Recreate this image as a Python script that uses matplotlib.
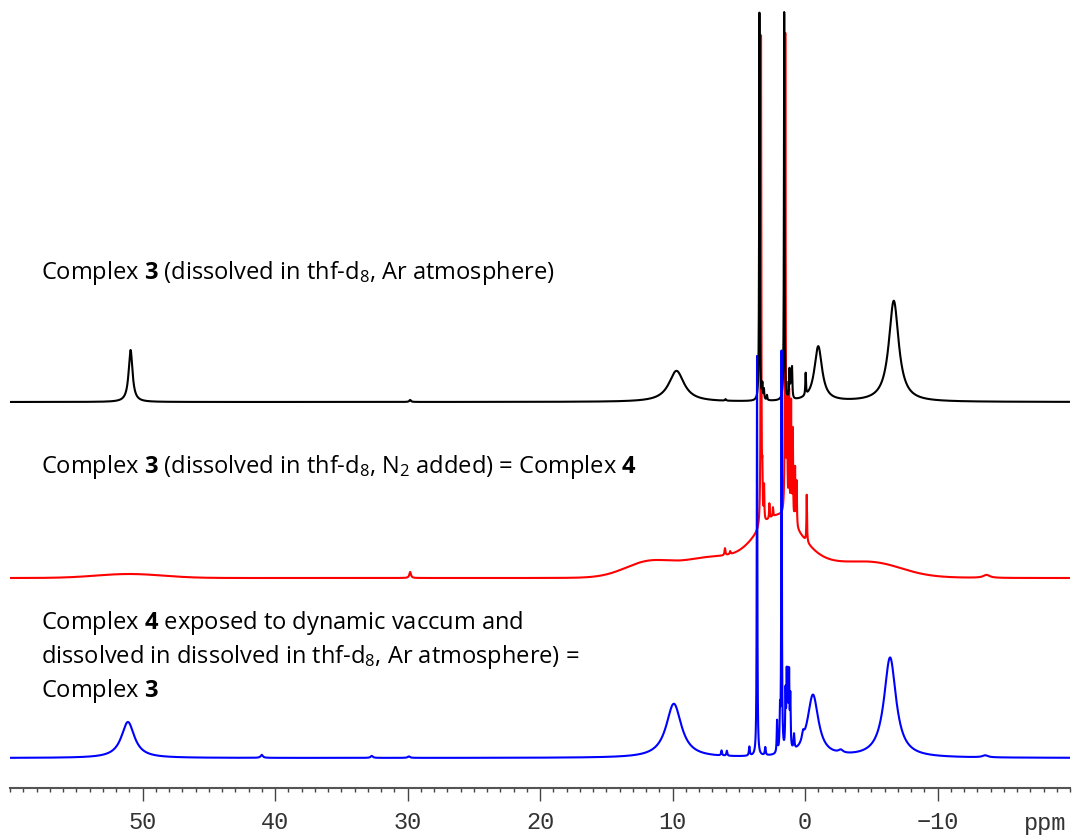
import numpy as np
import matplotlib.pyplot as plt
from matplotlib.ticker import MultipleLocator

plt.rcParams['mathtext.fontset'] = 'custom'
plt.rcParams['mathtext.rm'] = 'Open Sans'
plt.rcParams['mathtext.bf'] = 'Open Sans:bold'
plt.rcParams['mathtext.it'] = 'Open Sans:italic'

# peak lists: position (ppm), height (px above baseline), fwhm (ppm)
black_ppm = [50.9, 29.8, 9.7, 6.0, 3.44, 3.22, 3.1, 2.87, 1.57, 1.17, 1.07, 0.98, -0.05, -1.0, -6.7]
black_height = [52, 2, 31, 1.5, 388, 14, 10, 5, 388, 28, 24, 30, 22, 55, 101]
black_fwhm = [0.35, 0.15, 1.4, 0.1, 0.05, 0.06, 0.06, 0.06, 0.05, 0.06, 0.06, 0.06, 0.06, 0.7, 0.9]

red_ppm = [29.8, 6.04, 5.65, 3.32, 3.22, 3.09, 2.69, 2.42, 1.49, 1.35, 1.2, 1.05, 0.92, 0.75, 0.63, -0.13, -13.7]
red_height = [6, 7, 3, 490, 40, 34, 15, 9, 480, 118, 122, 115, 90, 56, 45, 47, 3]
red_fwhm = [0.15, 0.08, 0.08, 0.05, 0.05, 0.05, 0.05, 0.05, 0.05, 0.05, 0.05, 0.05, 0.05, 0.05, 0.05, 0.05, 0.6]
# broad paramagnetic envelope of the N2 sample (gaussian components)
red_broad_ppm = [51.0, 11.8, 7.5, 2.0, 2.0, -5.5]
red_broad_height = [4, 14, 9, 20, 42, 9]
red_broad_sigma = [2.5, 1.8, 1.8, 5.0, 1.6, 2.0]

blue_ppm = [51.1, 41.0, 32.7, 29.9, 9.9, 6.3, 5.9, 4.2, 3.62, 3.0, 2.11, 1.89, 1.77,
            1.47, 1.38, 1.29, 1.2, 1.11, 0.83, 0.15, -0.6, -2.7, -6.42, -13.6]
blue_height = [36, 3, 2, 1.5, 54, 5, 5, 9, 400, 8, 32, 36, 400,
               55, 70, 68, 70, 50, 15, 8, 62, 3, 100, 2]
blue_fwhm = [1.2, 0.2, 0.2, 0.2, 1.4, 0.08, 0.08, 0.08, 0.05, 0.08, 0.06, 0.06, 0.05,
             0.06, 0.06, 0.06, 0.06, 0.06, 0.08, 0.2, 1.0, 0.4, 1.1, 0.5]

ppm = np.linspace(60, -20, 32001)


def lorentz(x, pos, h, fwhm):
    y = np.zeros_like(x)
    for p, a, w in zip(pos, h, fwhm):
        g = w / 2
        y += a * g**2 / ((x - p)**2 + g**2)
    return y


def gauss(x, pos, h, sig):
    y = np.zeros_like(x)
    for p, a, s in zip(pos, h, sig):
        y += a * np.exp(-(x - p)**2 / (2 * s**2))
    return y


black = 386 + lorentz(ppm, black_ppm, black_height, black_fwhm)
red = 210 + gauss(ppm, red_broad_ppm, red_broad_height, red_broad_sigma) + lorentz(ppm, red_ppm, red_height, red_fwhm)
blue = 30 + lorentz(ppm, blue_ppm, blue_height, blue_fwhm)

fig = plt.figure(figsize=(10.73, 8.37), dpi=100)
ax = fig.add_axes([10 / 1073, (837 - 789) / 837, 1060 / 1073, 789 / 837])
ax.plot(ppm, red, color='#ff0000', lw=1.5, zorder=1)
ax.plot(ppm, black, color='black', lw=1.5, zorder=2)
ax.plot(ppm, blue, color='#0000ff', lw=1.5, zorder=3)

ax.set_xlim(60, -20)
ax.set_ylim(0, 789)
for s in ['left', 'right', 'top']:
    ax.spines[s].set_visible(False)
ax.spines['bottom'].set_color('#555555')
ax.spines['bottom'].set_linewidth(1.5)
ax.set_yticks([])
ax.set_xticks(np.arange(-10, 51, 10))
ax.xaxis.set_minor_locator(MultipleLocator(1))
ax.tick_params(axis='x', which='major', length=9.5, width=1, color='#444444',
               labelsize=17, labelcolor='#333333', pad=6)
ax.tick_params(axis='x', which='minor', length=3, width=1, color='#444444')
for lab in ax.get_xticklabels():
    lab.set_family('Liberation Mono')
fig.text(1045 / 1073, 1 - 824 / 837, 'ppm', ha='center', va='center',
         family='Liberation Mono', fontsize=17, color='#333333')

tx = 41 / 1073
kw = dict(ha='left', va='baseline', family='Open Sans', fontsize=17, color='black')
fig.text(tx, 1 - 279 / 837, r'Complex $\mathbf{3}$ (dissolved in thf-d$_8$, Ar atmosphere)', **kw)
fig.text(tx, 1 - 473 / 837, r'Complex $\mathbf{3}$ (dissolved in thf-d$_8$, N$_2$ added) = Complex $\mathbf{4}$', **kw)
fig.text(tx, 1 - 629 / 837, r'Complex $\mathbf{4}$ exposed to dynamic vaccum and', **kw)
fig.text(tx, 1 - 663 / 837, r'dissolved in dissolved in thf-d$_8$, Ar atmosphere) =', **kw)
fig.text(tx, 1 - 697 / 837, r'Complex $\mathbf{3}$', **kw)

fig.savefig('out.png', dpi=100)
